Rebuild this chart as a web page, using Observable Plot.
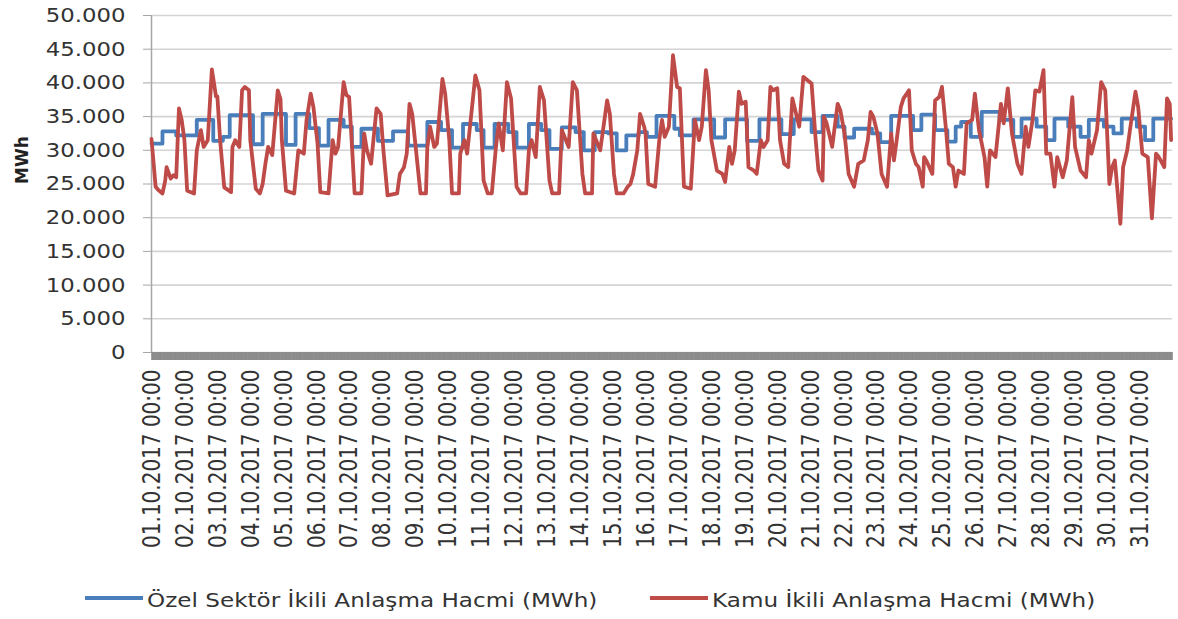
<!DOCTYPE html>
<html><head><meta charset="utf-8">
<script src="https://cdn.jsdelivr.net/npm/d3@7"></script>
<script src="https://cdn.jsdelivr.net/npm/@observablehq/plot@0.6"></script>
<style>
body{margin:0;background:#fff;font-family:"DejaVu Sans",sans-serif;color:#333;}
#wrap{width:1178px;height:619px;position:relative;overflow:hidden;background:#fff;}
#legend{position:relative;width:1178px;height:39px;}
.sw{position:absolute;height:4px;top:16px;}
.lt{position:absolute;top:9px;font-size:20px;line-height:22px;white-space:nowrap;transform:scaleX(1.155);transform-origin:left center;color:#333;}
</style></head>
<body><div id="wrap"><div id="chart"></div><div id="legend"></div></div>
<script>
// Category tick labels (one per day, hourly categories)
const dateLabels = ["01.10.2017 00:00","02.10.2017 00:00","03.10.2017 00:00","04.10.2017 00:00","05.10.2017 00:00","06.10.2017 00:00","07.10.2017 00:00","08.10.2017 00:00","09.10.2017 00:00","10.10.2017 00:00","11.10.2017 00:00","12.10.2017 00:00","13.10.2017 00:00","14.10.2017 00:00","15.10.2017 00:00","16.10.2017 00:00","17.10.2017 00:00","18.10.2017 00:00","19.10.2017 00:00","20.10.2017 00:00","21.10.2017 00:00","22.10.2017 00:00","23.10.2017 00:00","24.10.2017 00:00","25.10.2017 00:00","26.10.2017 00:00","27.10.2017 00:00","28.10.2017 00:00","29.10.2017 00:00","30.10.2017 00:00","31.10.2017 00:00"];
const hoursTotal = 744;
const yTicks = [0,5000,10000,15000,20000,25000,30000,35000,40000,45000,50000];
const seriesNames = ["Özel Sektör İkili Anlaşma Hacmi (MWh)","Kamu İkili Anlaşma Hacmi (MWh)"];
const seriesColors = ["#4A7EBB","#BE4B48"];
const yTitle = "MWh";

// Özel Sektör: [hour index, MWh] level changes
const ozelPoints = [
[0,31000],[8,32800],[18,32200],
[33,34500],[45,31400],
[52,32000],[57,35200],
[74,30900],[81,35400],
[98,30800],[105,35400],[115,33300],
[122,30700],[129,34500],[140,33500],
[146,30500],[153,33200],[165,31400],
[176,32800],[187,30700],
[201,34200],[211,33000],
[219,30400],[227,33900],[237,33000],
[242,30400],[250,33900],[260,32700],
[266,30400],[275,33900],[284,33000],
[290,30200],[299,33400],[309,32700],
[315,30000],[323,32700],[333,32500],
[339,30000],[346,32200],[355,32700],
[361,32000],[368,35100],[381,33200],
[385,32200],[395,34600],
[410,31900],[418,34600],
[434,31400],[443,34600],
[459,32400],[468,34600],
[481,32700],[489,35100],[500,33500],
[505,31900],[512,33200],[525,32500],
[531,31200],[539,35100],[555,33000],
[561,35300],[571,33000],
[580,31300],[586,33500],[590,34200],
[597,32000],[605,35700],
[618,34500],[628,32000],[634,34700],
[645,33500],[652,31500],[658,34700],
[668,33500],[677,32000],[683,34500],
[694,33500],[701,32500],[707,34700],
[718,33500],[724,31500],[730,34700],[743,34700]
];

// Kamu: [hour index, MWh] vertices
const kamuPoints = [
[0,31700],[3,24600],[5,24100],[8,23600],[10,25500],[11,27500],[14,25800],[16,26300],[18,26000],[20,36200],[22,34500],[24,31500],
[26,24000],[31,23600],[33,30000],[36,33000],[38,30500],[41,31500],[44,42000],[47,38000],[48,38000],[50,31500],[53,24500],
[58,23800],[59,30500],[61,31500],[64,30500],[66,38900],[68,39400],[71,38900],[72,31500],[76,24300],
[79,23600],[81,25000],[83,28000],[85,30500],[88,29300],[92,38900],[94,37600],[95,31500],[98,24000],
[104,23600],[107,30000],[111,29500],[113,34500],[116,38400],[118,36400],[121,31000],[123,23800],
[129,23600],[132,31500],[134,29500],[136,30500],[140,40100],[142,38200],[144,37900],[146,31000],[148,23600],
[153,23600],[155,32500],[157,30000],[160,28000],[164,36200],[167,35400],[169,30000],[172,23300],
[179,23600],[181,26500],[184,27500],[186,29500],[188,36900],[190,35400],[192,31500],[196,23600],
[200,23600],[201,30500],[203,33500],[206,30500],[208,31000],[212,40600],[214,38400],[217,31500],[219,23600],
[224,23600],[225,29500],[228,31500],[230,29500],[236,41100],[239,38900],[242,25500],[245,23600],
[248,23600],[251,30500],[253,34000],[256,30000],[259,40100],[262,37700],[266,24600],[269,23600],
[273,23600],[275,30000],[277,31500],[280,29000],[283,39400],[286,37400],[290,25500],[292,23600],
[297,23600],[299,33000],[302,31500],[304,30500],[307,40100],[310,38900],[314,26500],[316,23600],
[321,23600],[322,32500],[325,31000],[327,30000],[332,37400],[334,35400],[337,26500],[339,23600],
[344,23600],[347,24600],[349,25000],[351,26500],[354,30000],[356,35400],[359,33500],[360,32500],[362,25000],[367,24600],
[370,31500],[372,34500],[374,32000],[377,33500],[380,44100],[383,39400],[385,39200],[388,24600],[393,24300],
[396,34500],[399,31500],[401,33500],[404,41900],[406,38900],[408,31500],[412,27000],[416,26500],[418,25300],
[421,30500],[423,28000],[425,30000],[428,38700],[430,36900],[433,37200],[435,27500],[439,27000],[441,26500],
[444,31500],[446,30500],[449,31500],[451,39400],[453,38900],[456,39200],[458,31500],[461,28000],[464,27500],
[467,37700],[472,33500],[475,40900],[478,40400],[481,39900],[484,31500],[486,27000],[489,25500],
[490,35000],[492,34000],[496,30500],[500,36900],[502,35900],[505,32500],[508,26500],[512,24600],
[515,28000],[519,28500],[522,31500],[524,35700],[526,35000],[529,32500],[532,26500],[536,24600],
[539,32500],[541,28500],[543,31500],[546,36400],[548,37700],[552,38900],[554,30000],[557,28000],[559,27500],[562,24600],
[563,29000],[565,28300],[569,26500],[571,37400],[574,37900],[576,39400],[579,33000],[581,28000],[584,27500],[586,24600],
[588,27000],[592,26500],[594,34000],[598,34500],[600,38400],[603,33000],[607,29000],[609,24600],
[611,30000],[615,29000],[619,36900],[621,34000],[624,39200],[627,32500],[631,28000],[634,26500],
[637,33500],[639,30500],[642,34500],[644,38900],[647,38700],[650,41900],[652,29500],[655,29500],[658,24600],
[660,29000],[664,26000],[667,28500],[671,37900],[673,30500],[677,27000],[681,26000],
[683,31500],[685,29500],[689,33000],[692,40100],[695,38900],[698,25000],[700,27500],[702,28500],[706,19100],
[708,27500],[711,30000],[713,33000],[717,38700],[719,36400],[722,29500],[726,29000],[729,19900],
[732,29500],[734,29000],[738,27500],[740,37700],[742,36900],[743,31500]
];

const ozel = ozelPoints.map(([h, v]) => ({h, v}));
const kamu = kamuPoints.map(([h, v]) => ({h, v}));
const hourTicks = d3.range(hoursTotal).map(i => i + 0.5);
const dayTicks = dateLabels.map((_, i) => i * 24 + 0.5);
const fmt = d3.formatLocale({decimal: ",", thousands: ".", grouping: [3], currency: ["", ""]}).format(",");

const chart = Plot.plot({
  width: 1178, height: 580,
  marginLeft: 151, marginRight: 6, marginTop: 15, marginBottom: 228,
  style: {fontFamily: "DejaVu Sans, sans-serif", fontSize: "20px", color: "#333", background: "#fff"},
  x: {domain: [0, hoursTotal]},
  y: {domain: [0, 50000]},
  marks: [
    Plot.gridY(yTicks, {stroke: "#d4d4d4", strokeOpacity: 1, strokeWidth: 1.6}),
    Plot.axisX(hourTicks, {tickSize: 8, stroke: "#8c8c8c", strokeWidth: 2, tickFormat: () => "", label: null}),
    Plot.axisX(dayTicks, {tickSize: 0, tickPadding: 17, tickRotate: -90, tickFormat: d => dateLabels[Math.round((d - 0.5) / 24)], label: null, fontSize: 20}),
    Plot.axisY(yTicks, {tickSize: 8, tickPadding: 18, tickFormat: fmt, label: null, stroke: "#a6a6a6", fontSize: 20}),
    Plot.ruleX([0], {stroke: "#a6a6a6", strokeWidth: 1.5}),
    Plot.line(ozel, {x: "h", y: "v", stroke: seriesColors[0], strokeWidth: 3.8, curve: "step-after"}),
    Plot.line(kamu, {x: "h", y: "v", stroke: seriesColors[1], strokeWidth: 3.8}),
    Plot.text([yTitle], {frameAnchor: "left", rotate: -90, dx: -129, fontWeight: "bold", fontSize: 17, fill: "#222"})
  ]
});
document.getElementById("chart").appendChild(chart);
chart.querySelectorAll('g[aria-label="y-axis tick label"] text').forEach(t => {
  const L = t.getComputedTextLength();
  t.setAttribute("textLength", L * 1.14);
  t.setAttribute("lengthAdjust", "spacingAndGlyphs");
});
chart.querySelectorAll('g[aria-label="x-axis tick label"] text').forEach(t => {
  const tr = t.getAttribute("transform");
  if (tr && tr.includes("rotate")) t.setAttribute("transform", tr + " scale(1,1.2)");
});

const leg = document.getElementById("legend");
const lx = [[85, 147], [650, 712]];
seriesNames.forEach((name, i) => {
  const sw = document.createElement("div");
  sw.className = "sw"; sw.style.left = lx[i][0] + "px"; sw.style.width = "58px"; sw.style.background = seriesColors[i];
  const tx = document.createElement("span");
  tx.className = "lt"; tx.style.left = lx[i][1] + "px"; tx.textContent = name;
  leg.appendChild(sw); leg.appendChild(tx);
});
</script></body></html>
